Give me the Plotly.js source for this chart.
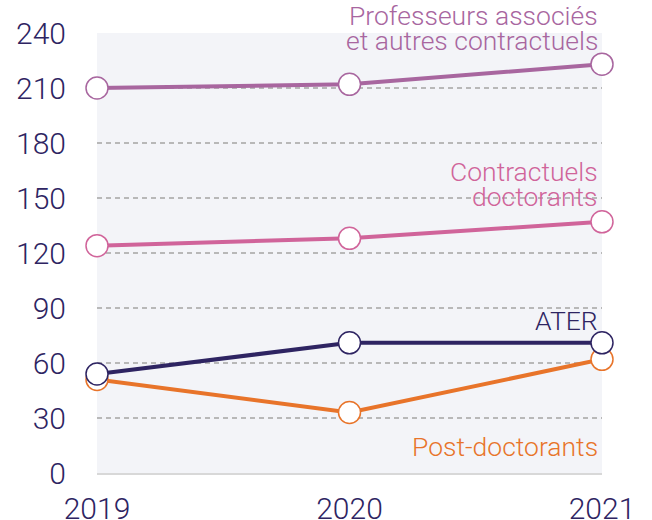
<!DOCTYPE html>
<html>
<head>
<meta charset="utf-8">
<script src="https://cdn.plot.ly/plotly-3.0.1.min.js"></script>
<style>html,body{margin:0;padding:0;background:#fff;}#chart{width:652px;height:520px;}</style>
</head>
<body>
<div id="chart"></div>
<script>
const years = [2019, 2020, 2021];
const professeurs = [210, 212, 223];
const contractuelsDoctorants = [124, 128, 137];
const ater = [54, 71, 71];
const postDoctorants = [51, 33, 62];
const yTicks = [0, 30, 60, 90, 120, 150, 180, 210, 240];

const FONT = "Roboto, 'Liberation Sans', sans-serif";
const navy = '#2e2462';
const orange = '#e8742a';
const pink = '#d0649a';
const purple = '#a8669f';

function series(y, color) {
  return {
    x: years, y: y, type: 'scatter', mode: 'lines+markers',
    line: {color: color, width: 4},
    marker: {size: 22, color: '#ffffff', line: {color: color, width: 1.5}},
    cliponaxis: false, hoverinfo: 'skip', showlegend: false
  };
}

const data = [
  series(postDoctorants, orange),
  series(ater, navy),
  series(contractuelsDoctorants, pink),
  series(professeurs, purple)
];

function label(text, yv, yshift, color) {
  return {x: 2021, y: yv, xref: 'x', yref: 'y', text: text, showarrow: false,
    xanchor: 'right', yanchor: 'bottom', xshift: -2, yshift: yshift,
    font: {family: FONT, size: 26.5, color: color, weight: 300}};
}

const layout = {
  width: 652, height: 520,
  margin: {l: 97, r: 50, t: 33, b: 47},
  paper_bgcolor: '#ffffff',
  plot_bgcolor: '#f3f4f8',
  xaxis: {
    type: 'linear', range: [2019, 2021], tickvals: years, ticktext: years.map(String),
    showgrid: false, zeroline: false, showline: true, linecolor: '#d8d8d8', linewidth: 2,
    ticks: '', ticklabelstandoff: 8,
    tickfont: {family: FONT, size: 30, color: navy, weight: 300}, fixedrange: true
  },
  yaxis: {
    range: [0, 240], tickvals: yTicks, ticktext: yTicks.map(String),
    showgrid: true, gridcolor: '#b8b8b8', gridwidth: 2, griddash: '5px,4px',
    zeroline: false, showline: false, ticks: '', ticklabelstandoff: 30,
    tickfont: {family: FONT, size: 30, color: navy, weight: 300}, fixedrange: true
  },
  annotations: [
    label('Professeurs associés', 240, 0, purple),
    label('et autres contractuels', 240, -25, purple),
    label('Contractuels', 150, 9, pink),
    label('doctorants', 150, -16, pink),
    label('ATER', 71, 5, navy),
    label('Post-doctorants', 0, 9, orange)
  ]
};

Plotly.newPlot('chart', data, layout, {displayModeBar: false, staticPlot: true});
</script>
</body>
</html>
